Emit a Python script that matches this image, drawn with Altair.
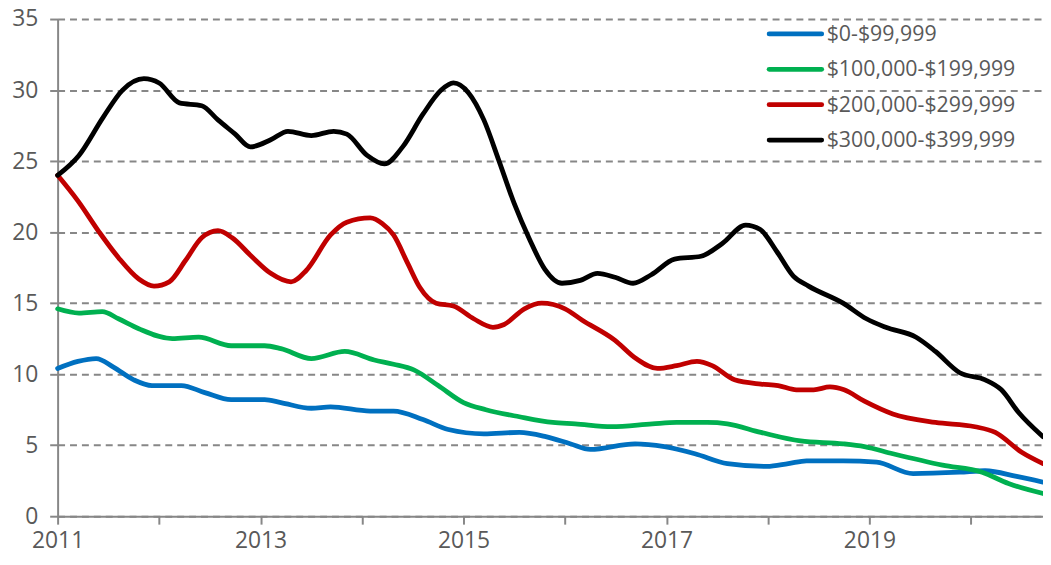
import altair as alt
import pandas as pd

series_names = ["$0-$99,999", "$100,000-$199,999", "$200,000-$299,999", "$300,000-$399,999"]
series_colors = ["#0070C0", "#00B050", "#C00000", "#000000"]
legend_rows = [0, 1, 2, 3]

blue_x = [2011.0, 2011.2, 2011.38, 2011.55, 2011.75, 2011.93, 2012.22, 2012.45, 2012.71, 2013.04,
          2013.2, 2013.5, 2013.69, 2014.08, 2014.31, 2014.6, 2014.85, 2015.2, 2015.55, 2015.81,
          2016.05, 2016.25, 2016.69, 2016.98, 2017.28, 2017.6, 2017.99, 2018.2, 2018.38, 2018.74,
          2019.07, 2019.43, 2019.89, 2020.14, 2020.45, 2020.71]
blue_y = [10.4, 10.9, 11.1, 10.5, 9.6, 9.2, 9.2, 8.7, 8.2, 8.2,
          8.0, 7.6, 7.7, 7.4, 7.4, 6.8, 6.1, 5.8, 5.9, 5.6,
          5.1, 4.7, 5.1, 4.9, 4.4, 3.7, 3.5, 3.7, 3.9, 3.9,
          3.8, 3.0, 3.1, 3.2, 2.8, 2.4]

green_x = [2011.0, 2011.21, 2011.44, 2011.6, 2011.8, 2012.13, 2012.39, 2012.71, 2013.04, 2013.2,
           2013.5, 2013.83, 2014.12, 2014.31, 2014.51, 2014.75, 2015.0, 2015.22, 2015.55, 2015.88,
           2016.1, 2016.46, 2016.86, 2017.1, 2017.4, 2017.6, 2017.93, 2018.32, 2018.74, 2018.95,
           2019.23, 2019.72, 2020.11, 2020.37, 2020.71]
green_y = [14.6, 14.3, 14.4, 13.9, 13.2, 12.5, 12.6, 12.0, 12.0, 11.8,
           11.1, 11.6, 11.0, 10.7, 10.3, 9.2, 8.0, 7.5, 7.0, 6.6,
           6.5, 6.3, 6.5, 6.6, 6.6, 6.5, 5.9, 5.3, 5.1, 4.9,
           4.4, 3.6, 3.1, 2.3, 1.6]

red_x = [2011.0, 2011.2, 2011.41, 2011.6, 2011.8, 2011.95, 2012.1, 2012.26, 2012.42, 2012.58,
         2012.72, 2012.91, 2013.1, 2013.3, 2013.45, 2013.69, 2013.85, 2014.08, 2014.2, 2014.31,
         2014.45, 2014.57, 2014.73, 2014.9, 2015.1, 2015.29, 2015.4, 2015.6, 2015.77, 2016.0,
         2016.17, 2016.49, 2016.7, 2016.91, 2017.1, 2017.3, 2017.45, 2017.67, 2017.93, 2018.1,
         2018.28, 2018.45, 2018.61, 2018.75, 2018.95, 2019.23, 2019.65, 2020.04, 2020.24,
         2020.5, 2020.71]
red_y = [24.0, 22.2, 20.0, 18.2, 16.7, 16.2, 16.5, 18.0, 19.6, 20.1,
         19.6, 18.3, 17.1, 16.5, 17.3, 19.8, 20.7, 21.0, 20.6, 19.8,
         17.8, 16.1, 15.0, 14.8, 13.9, 13.3, 13.5, 14.6, 15.0, 14.6,
         13.8, 12.4, 11.1, 10.4, 10.6, 10.9, 10.6, 9.6, 9.3, 9.2,
         8.9, 8.9, 9.1, 8.9, 8.1, 7.2, 6.6, 6.3, 5.9,
         4.5, 3.7]

black_x = [2011.0, 2011.21, 2011.45, 2011.64, 2011.85, 2012.0, 2012.2, 2012.42, 2012.58, 2012.75,
           2012.9, 2013.1, 2013.27, 2013.5, 2013.72, 2013.85, 2014.05, 2014.22, 2014.4, 2014.6,
           2014.78, 2014.9, 2015.05, 2015.2, 2015.35, 2015.5, 2015.65, 2015.8, 2015.97, 2016.15,
           2016.32, 2016.5, 2016.67, 2016.85, 2017.08, 2017.34, 2017.55, 2017.78, 2017.92,
           2018.09, 2018.25, 2018.4, 2018.74, 2018.97, 2019.16, 2019.46, 2019.65, 2019.89, 2020.14,
           2020.3, 2020.47, 2020.71]
black_y = [24.0, 25.4, 28.1, 30.0, 30.8, 30.5, 29.1, 28.9, 27.9, 26.9,
           26.0, 26.5, 27.1, 26.8, 27.1, 26.9, 25.4, 24.8, 26.0, 28.3,
           30.0, 30.5, 29.8, 27.9, 25.0, 22.0, 19.5, 17.4, 16.4, 16.6,
           17.1, 16.8, 16.4, 17.0, 18.1, 18.3, 19.2, 20.5, 20.2,
           18.6, 16.9, 16.2, 15.0, 13.9, 13.3, 12.6, 11.6, 10.1, 9.6,
           8.9, 7.3, 5.6]

year_ticks = list(range(2011, 2021))
y_ticks = [0, 5, 10, 15, 20, 25, 30, 35]

rows = []
for name, xs, ys in zip(series_names, [blue_x, green_x, red_x, black_x],
                        [blue_y, green_y, red_y, black_y]):
    for xv, yv in zip(xs, ys):
        rows.append({"year": xv, "value": yv, "series": name})
df = pd.DataFrame(rows)
legend_df = pd.DataFrame({"series": series_names, "row": legend_rows})

FONT = "Open Sans"
TXT = "#595959"
AX = "#878787"
LW = 4.8

color_scale = alt.Scale(domain=series_names, range=series_colors)

lines = alt.Chart(df).mark_line(strokeWidth=LW, interpolate="monotone", strokeCap="round",
                                strokeJoin="round").encode(
    x=alt.X("year:Q",
            scale=alt.Scale(domain=[2011, 2020.71], nice=False, zero=False),
            axis=alt.Axis(values=year_ticks, title=None, grid=False,
                          labelExpr="datum.value % 2 == 1 ? format(datum.value, 'd') : ''",
                          labelFont=FONT, labelFontSize=23, labelColor=TXT,
                          tickSize=8, tickColor=AX, tickWidth=2,
                          domainColor=AX, domainWidth=2, labelPadding=6,
                          labelFlush=False, labelOverlap=False)),
    y=alt.Y("value:Q",
            scale=alt.Scale(domain=[0, 35], nice=False),
            axis=alt.Axis(values=y_ticks, title=None, grid=True, gridDash=[7, 5],
                          gridColor=AX, gridWidth=2,
                          labelFont=FONT, labelFontSize=23, labelColor=TXT,
                          tickSize=8, tickColor=AX, tickWidth=2,
                          domainColor=AX, domainWidth=2, labelPadding=12)),
    color=alt.Color("series:N", scale=color_scale, sort=series_names, legend=None),
)

legend_y = alt.Y("row:Q", scale=alt.Scale(domain=[0, 3], range=[15, 122]), axis=None)

legend_symbols = alt.Chart(legend_df).mark_rule(strokeWidth=LW, strokeCap="round").encode(
    x=alt.value(717), x2=alt.value(770), y=legend_y,
    color=alt.Color("series:N", scale=color_scale, legend=None),
)

legend_labels = alt.Chart(legend_df).mark_text(align="left", baseline="middle", font=FONT,
                                               fontSize=21.5, color=TXT, dy=1).encode(
    x=alt.value(775), y=legend_y, text="series:N",
)

chart = alt.layer(lines, legend_symbols, legend_labels).resolve_scale(
    y="independent"
).properties(
    width=993, height=501,
    autosize=alt.AutoSizeParams(type="none"),
    padding={"left": 50, "top": 9, "right": 0, "bottom": 42},
).configure_view(stroke=None)

chart.save("out.html", embed_options={"renderer": "svg", "actions": False})
